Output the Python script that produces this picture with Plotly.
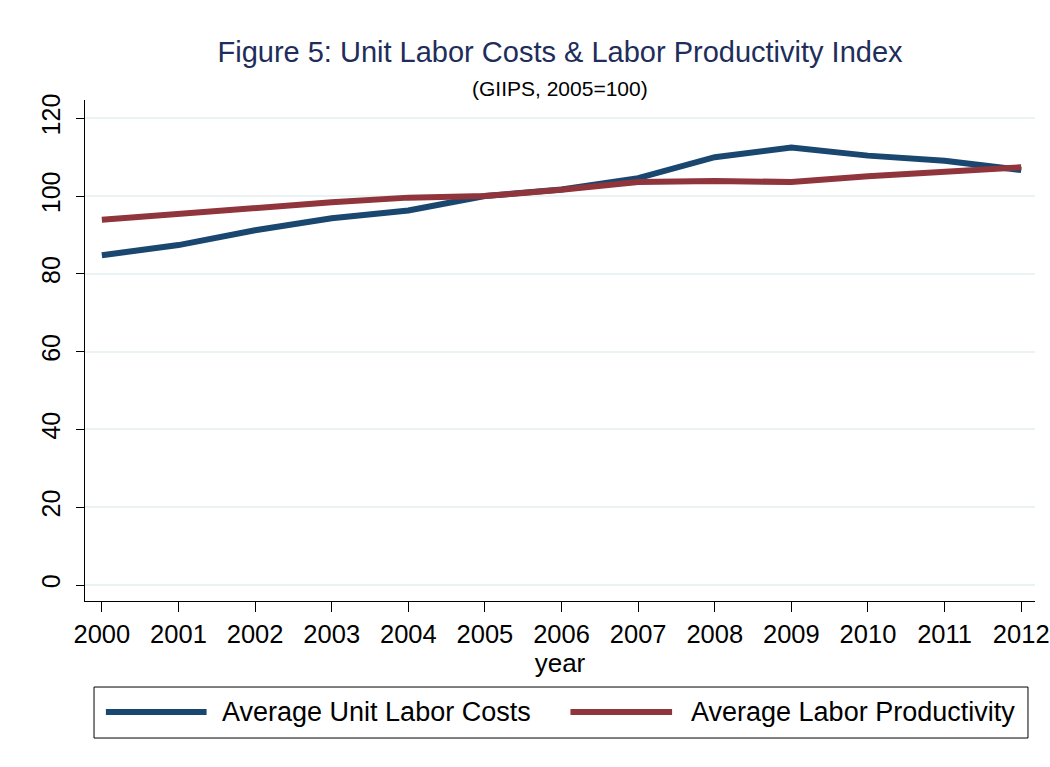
import plotly.graph_objects as go

years = [2000, 2001, 2002, 2003, 2004, 2005, 2006, 2007, 2008, 2009, 2010, 2011, 2012]
unit_labor_costs = [84.8, 87.4, 91.2, 94.3, 96.3, 100.0, 101.7, 104.6, 110.0, 112.5, 110.4, 109.1, 106.7]
labor_productivity = [93.9, 95.4, 97.0, 98.4, 99.6, 100.0, 101.6, 103.6, 103.9, 103.6, 105.1, 106.1, 107.4]
series_names = ["Average Unit Labor Costs", "Average Labor Productivity"]
y_ticks = [0, 20, 40, 60, 80, 100, 120]

ulc_color = "#1a476f"
lp_color = "#90353b"
font_family = "Arial, Liberation Sans, sans-serif"

fig = go.Figure()

fig.add_trace(go.Scatter(x=years, y=unit_labor_costs, mode="lines", name=series_names[0],
                         line=dict(color=ulc_color, width=6), showlegend=False))
fig.add_trace(go.Scatter(x=years, y=labor_productivity, mode="lines", name=series_names[1],
                         line=dict(color=lp_color, width=6), showlegend=False))

# --- manual legend box (Stata style, wide symbols) ---
fig.add_shape(type="rect", xref="paper", yref="paper",
              x0=0.0095, x1=0.9926, y0=-0.2735, y1=-0.1717,
              line=dict(color="black", width=1), fillcolor="white")
legend_y = -0.2216
for name, color, sx0, sx1, tx in [
    (series_names[0], ulc_color, 0.022, 0.128, 0.142),
    (series_names[1], lp_color, 0.511, 0.618, 0.636),
]:
    fig.add_shape(type="line", xref="paper", yref="paper",
                  x0=sx0, x1=sx1, y0=legend_y, y1=legend_y,
                  line=dict(color=color, width=6))
    fig.add_annotation(x=tx, y=legend_y, xref="paper", yref="paper", text=name,
                       showarrow=False, xanchor="left", yanchor="middle",
                       font=dict(size=27, color="black"))

# subtitle
fig.add_annotation(x=0.5, y=1 - (88 - 100) / 501, xref="paper", yref="paper",
                   text="(GIIPS, 2005=100)", showarrow=False,
                   xanchor="center", yanchor="middle",
                   font=dict(size=21, color="black"))

fig.update_xaxes(range=[1999.78, 2012.18], tickvals=years, ticks="outside", ticklen=10,
                 tickcolor="black", tickfont=dict(size=25.5, color="black"),
                 ticklabeloverflow="allow", automargin=False,
                 showline=True, linecolor="black", linewidth=1, showgrid=False,
                 zeroline=False, title=dict(text="year", font=dict(size=26, color="black"),
                                            standoff=2))
fig.update_yaxes(range=[-4.1, 124.7], tickvals=y_ticks, ticks="outside", ticklen=8,
                 tickcolor="black", tickangle=-90, tickfont=dict(size=25, color="black"),
                 ticklabelstandoff=6, automargin=False,
                 showline=True, linecolor="black", linewidth=1,
                 showgrid=True, gridcolor="#eaf2f3", gridwidth=2, zeroline=False)

fig.update_layout(
    width=1050, height=767,
    font=dict(family=font_family),
    title=dict(text="Figure 5: Unit Labor Costs & Labor Productivity Index",
               x=0.5, xref="paper", y=1 - 52 / 767, yanchor="middle",
               font=dict(size=29, color="#1e2d5a")),
    plot_bgcolor="white", paper_bgcolor="white",
    margin=dict(l=85, r=15, t=100, b=166),
    showlegend=False,
)

fig.write_html("out.html", config={"displayModeBar": False},
               post_script="document.body.style.margin='0';")
